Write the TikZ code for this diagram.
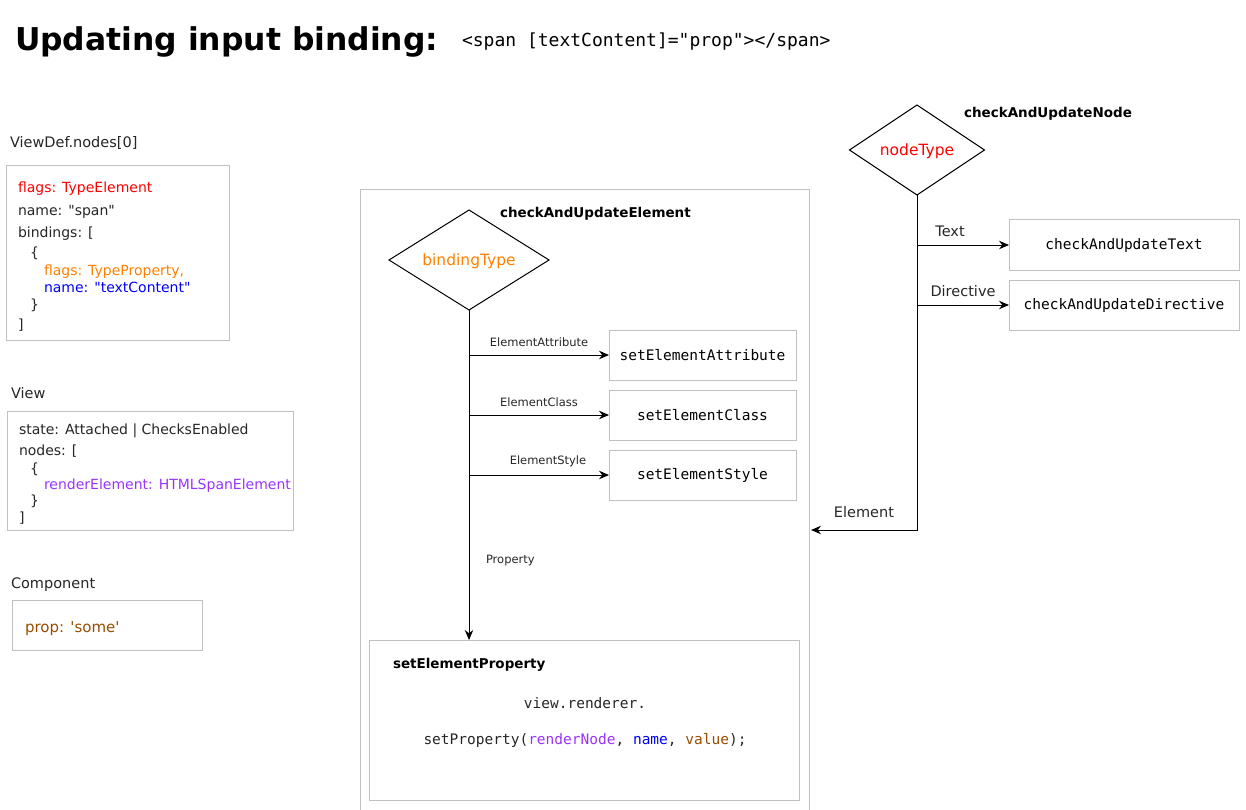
\documentclass[tikz,border=0pt]{standalone}
\usepackage{fontspec}
\setmainfont{DejaVu Sans}[Ligatures=TeXOff]
\setmonofont{DejaVu Sans Mono}
\usetikzlibrary{shapes.geometric, arrows.meta, positioning}
\definecolor{frame}{RGB}{192, 192, 192}
\definecolor{flagred}{RGB}{255, 0, 0}
\definecolor{proporange}{RGB}{255, 128, 0}
\definecolor{nameblue}{RGB}{0, 0, 255}
\definecolor{renderpurple}{RGB}{153, 51, 255}
\definecolor{valuebrown}{RGB}{153, 76, 0}

\begin{document}
\begin{tikzpicture}[x=1pt, y=-1pt,
        every node/.style={inner sep=0pt, outer sep=0pt},
        panel/.style={rectangle, draw=frame, line width=1pt},
        fnbox/.style={panel, minimum width=187pt, minimum height=50pt, font=\fontsize{14.5}{17}\ttfamily},
        fnboxwide/.style={fnbox, minimum width=230pt},
        decide/.style={diamond, aspect=1.6, draw=black, line width=1pt, text depth=0pt, font=\fontsize{15.5}{18}\selectfont},
        caption/.style={anchor=base west, font=\fontsize{14.5}{17}\selectfont, text=black!85},
        code/.style={anchor=north west, align=left, font=\fontsize{14}{17}\selectfont, text=black!85},
        fnname/.style={anchor=base west, font=\fontsize{13.5}{16}\bfseries},
        branch/.style={font=\fontsize{14.5}{17}\selectfont, text=black!85},
        smallbranch/.style={font=\fontsize{11.5}{14}\selectfont, text=black!85},
        arr/.style={-{Stealth[length=10pt, width=8.5pt]}, line width=1pt}
    ]
        \useasboundingbox (0,0) rectangle (1246,810);

        % Title
        \node[anchor=base west, font=\fontsize{31.4}{36}\bfseries] (title) at (15,51) {Updating input binding:};
        \node[anchor=base west, font=\fontsize{18}{20}\ttfamily] (snippet) at (462,47) {<span [textContent]="prop"></span>};

        % Left column: data structures
        \node[caption] (vdeflbl) at (10,148) {ViewDef.nodes[0]};
        \node[panel, anchor=north west, minimum width=223pt, minimum height=174pt] (vdef) at (6,166) {};
        \node[code] (vdeftxt) at (18,181.5) {\textcolor{flagred}{flags: TypeElement}\\[6pt]
            name: "span"\\[5pt]
            bindings: [\\[3pt]
            \hspace*{12pt}\{\\[1pt]
            \hspace*{26pt}\textcolor{proporange}{flags: TypeProperty,}\\
            \hspace*{26pt}\textcolor{nameblue}{name: "textContent"}\\
            \hspace*{12pt}\}\\[3pt]
            ]};

        \node[caption] (viewlbl) at (11,398) {View};
        \node[panel, anchor=north west, minimum width=286pt, minimum height=119pt] (view) at (7,411) {};
        \node[code] (viewtxt) at (19,423.5) {state: Attached | ChecksEnabled\\[4pt]
            nodes: [\\[1pt]
            \hspace*{11pt}\{\\[-1pt]
            \hspace*{25pt}\textcolor{renderpurple}{renderElement: HTMLSpanElement}\\[-1pt]
            \hspace*{11pt}\}\\
            ]};

        \node[caption] (complbl) at (11,588) {Component};
        \node[panel, anchor=north west, minimum width=190pt, minimum height=50pt] (comp) at (12,600) {};
        \node[anchor=base west, font=\fontsize{15}{18}\selectfont, text=valuebrown] (comptxt) at (25,632) {prop: 'some'};

        % checkAndUpdateElement
        \node[panel, anchor=north west, minimum width=449pt, minimum height=630pt] (elemfn) at (360,190) {};
        \node[fnname] (elemttl) at (500,218) {checkAndUpdateElement};
        \node[decide, minimum width=160pt, minimum height=100pt, text=proporange] (btype) at (469,260) {bindingType};

        \node[fnbox] (attr)  at (702.5,355) {setElementAttribute};
        \node[fnbox] (class) at (702.5,415) {setElementClass};
        \node[fnbox] (style) at (702.5,475) {setElementStyle};

        \node[panel, minimum width=430pt, minimum height=160pt] (prop) at (584,720) {};
        \node[fnname] (propttl) at (393,668) {setElementProperty};
        \node[anchor=base, font=\fontsize{14.5}{17}\ttfamily, text=black!85] (propl1) at (585,708.5) {view.renderer.};
        \node[anchor=base, font=\fontsize{14.5}{17}\ttfamily, text=black!85] (propl2) at (585,744.5) {setProperty(\textcolor{renderpurple}{renderNode}, \textcolor{nameblue}{name}, \textcolor{valuebrown}{value});};

        \draw[arr] (btype.south) -- node[smallbranch, anchor=west, pos=0.76, xshift=17pt] (lprop) {Property} (btype.south |- prop.north);
        \draw[arr] (btype.south |- attr.west) -- node[smallbranch, above=8pt] (lattr) {ElementAttribute} (attr.west);
        \draw[arr] (btype.south |- class.west) -- node[smallbranch, above=8pt] (lclass) {ElementClass} (class.west);
        \draw[arr] (btype.south |- style.west) -- node[smallbranch, above=8pt, xshift=9pt] (lstyle) {ElementStyle} (style.west);

        % checkAndUpdateNode
        \node[decide, minimum width=135pt, minimum height=90pt, text=flagred] (ntype) at (917,150) {nodeType};
        \node[fnname] (nodettl) at (964,118) {checkAndUpdateNode};
        \node[fnboxwide] (txt) at (1124,245) {checkAndUpdateText};
        \node[fnboxwide] (dir) at (1124,305) {checkAndUpdateDirective};
        \coordinate (elin) at (811,530);

        \draw[arr] (ntype.south |- txt.west) -- node[branch, above=8pt, xshift=-13pt] (ltxt) {Text} (txt.west);
        \draw[arr] (ntype.south |- dir.west) -- node[branch, above=8pt] (ldir) {Directive} (dir.west);
        \draw[arr] (ntype.south) |- node[branch, above=12pt, pos=0.75] (lelem) {Element} (elin);
    \end{tikzpicture}
\end{document}
